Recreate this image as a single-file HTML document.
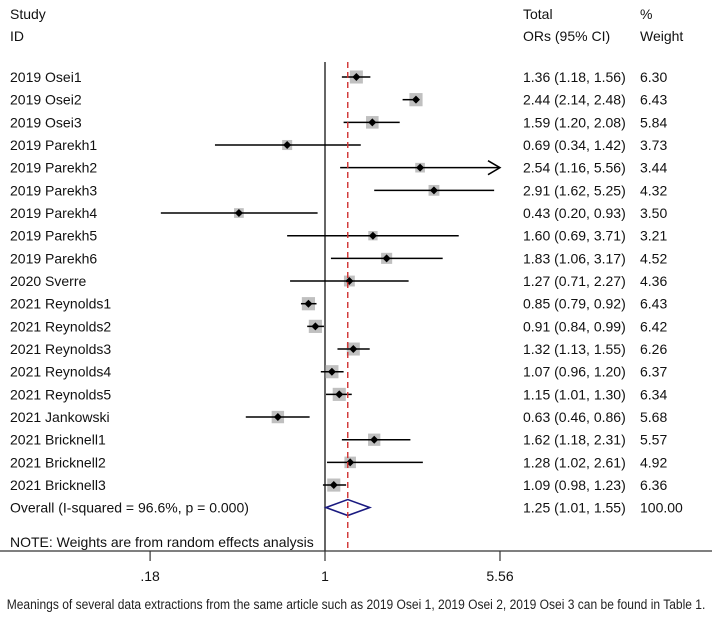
<!DOCTYPE html>
<html><head><meta charset="utf-8"><style>
body{margin:0;background:#fff;width:712px;height:615px;overflow:hidden}
svg text{font-family:"Liberation Sans",Arial,sans-serif;font-size:14px;fill:#111}
</style></head><body>
<svg id="c" width="712" height="615">
<text x="10" y="19">Study</text>
<text x="10" y="41">ID</text>
<text x="523" y="19">Total</text>
<text x="523" y="41">ORs (95% CI)</text>
<text x="640" y="19">%</text>
<text x="640" y="41">Weight</text>
<line x1="325" y1="62" x2="325" y2="551" stroke="#000" stroke-width="1.2"/>
<g id="marks"></g>
<text x="10" y="547">NOTE: Weights are from random effects analysis</text>
<line x1="0" y1="551" x2="712" y2="551" stroke="#333" stroke-width="1.2"/>
<g id="ticks"></g>
<text x="356" y="609" text-anchor="middle" style="font-size:14px;fill:#222" transform="translate(356,0) scale(0.86,1) translate(-356,0)">Meanings of several data extractions from the same article such as 2019 Osei 1, 2019 Osei 2, 2019 Osei 3 can be found in Table 1.</text>
</svg>
<script>
const studies=["2019 Osei1","2019 Osei2","2019 Osei3","2019 Parekh1","2019 Parekh2","2019 Parekh3","2019 Parekh4","2019 Parekh5","2019 Parekh6","2020 Sverre","2021 Reynolds1","2021 Reynolds2","2021 Reynolds3","2021 Reynolds4","2021 Reynolds5","2021 Jankowski","2021 Bricknell1","2021 Bricknell2","2021 Bricknell3"];
const ors=[1.36,2.44,1.59,0.69,2.54,2.91,0.43,1.60,1.83,1.27,0.85,0.91,1.32,1.07,1.15,0.63,1.62,1.28,1.09];
const lows=[1.18,2.14,1.20,0.34,1.16,1.62,0.20,0.69,1.06,0.71,0.79,0.84,1.13,0.96,1.01,0.46,1.18,1.02,0.98];
const highs=[1.56,2.48,2.08,1.42,5.56,5.25,0.93,3.71,3.17,2.27,0.92,0.99,1.55,1.20,1.30,0.86,2.31,2.61,1.23];
const weights=[6.30,6.43,5.84,3.73,3.44,4.32,3.50,3.21,4.52,4.36,6.43,6.42,6.26,6.37,6.34,5.68,5.57,4.92,6.36];
const overall=[1.25,1.01,1.55];
const tickVals=[0.18,1,5.56];
const tickLabels=[".18","1","5.56"];
const NS="http://www.w3.org/2000/svg";
const X=v=>325+102*Math.log(v);
const Y=i=>77+22.67*i;
const XMAX=X(5.56);
const g=document.getElementById('marks');
function mk(t,a,p){const e=document.createElementNS(NS,t);for(const k in a)e.setAttribute(k,a[k]);(p||g).appendChild(e);return e;}
const f2=v=>v.toFixed(2);
studies.forEach((s,i)=>{
  const y=Y(i);
  const lab=mk('text',{x:10,y:y+5});lab.textContent=s;
  
  
  const sz=5.2*Math.sqrt(weights[i]);
  const b=mk('rect',{x:X(ors[i])-sz/2,y:y-sz/2,width:sz,height:sz,fill:'#c0c0c0'});
  
  
  const hx=Math.min(X(highs[i]),XMAX);
  const l=mk('line',{x1:X(lows[i]),x2:hx,y1:y,y2:y,stroke:'#000','stroke-width':1.5});
  
  
  if(X(highs[i])>=XMAX-1){
    const a=mk('polyline',{points:`${XMAX-12},${y-7} ${XMAX},${y} ${XMAX-12},${y+7}`,fill:'none',stroke:'#000','stroke-width':1.5});
    
    
  }
  const d=mk('path',{d:`M${X(ors[i])-4},${y} L${X(ors[i])},${y-4} L${X(ors[i])+4},${y} L${X(ors[i])},${y+4}Z`,fill:'#000'});
  
  
  const t=mk('text',{x:523,y:y+5});t.textContent=`${f2(ors[i])} (${f2(lows[i])}, ${f2(highs[i])})`;
  
  
  const w=mk('text',{x:640,y:y+5});w.textContent=f2(weights[i]);
  
  
});
const oy=Y(18)+22.5;
const ol=mk('text',{x:10,y:oy+5});ol.textContent="Overall  (I-squared = 96.6%, p = 0.000)";


const dm=mk('path',{d:`M${X(overall[1])},${oy} L${X(overall[0])},${oy-8} L${X(overall[2])},${oy} L${X(overall[0])},${oy+8}Z`,fill:'none',stroke:'#1a1a80','stroke-width':1.6});


const ot=mk('text',{x:523,y:oy+5});ot.textContent=`${f2(overall[0])} (${f2(overall[1])}, ${f2(overall[2])})`;


const ow=mk('text',{x:640,y:oy+5});ow.textContent="100.00";


const dl=mk('line',{x1:X(overall[0]),x2:X(overall[0]),y1:62,y2:551,stroke:'#d03030','stroke-width':1.4,'stroke-dasharray':'6,4'});


const tg=document.getElementById('ticks');
tickVals.forEach((v,i)=>{
  const tl=mk('line',{x1:X(v),x2:X(v),y1:551,y2:561,stroke:'#333','stroke-width':1.2},tg);
  
  
  const tt=mk('text',{x:X(v),y:581,'text-anchor':'middle'},tg);tt.textContent=tickLabels[i];
  
  
});
</script>
</body></html>
